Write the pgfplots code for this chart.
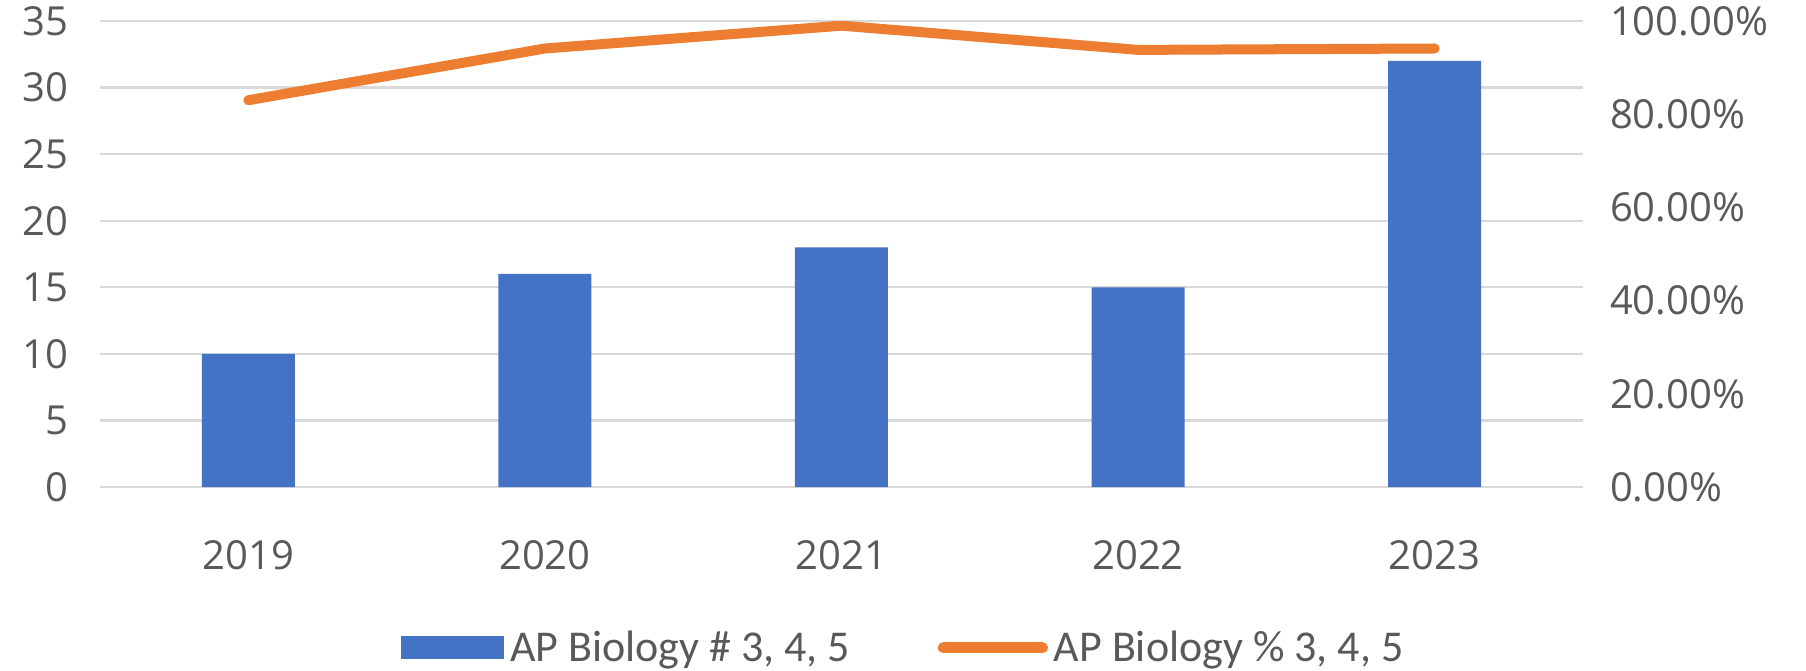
\documentclass[border=0pt]{standalone}
\usepackage{fontspec}
\setmainfont{Open Sans}
\newfontfamily\legfont{Carlito}
\usepackage{pgfplots}
\pgfplotsset{compat=1.18}

\definecolor{barblue}{HTML}{4472C4}
\definecolor{lineorange}{HTML}{ED7D31}
\definecolor{txtgray}{HTML}{595959}
\definecolor{gridgray}{HTML}{D9D9D9}

\begin{document}
\begin{tikzpicture}
\useasboundingbox (-50pt,-91.5pt) rectangle (853pt,243.5pt);
\pgfplotsset{
  base/.style={
    scale only axis, width=741.5pt, height=233pt,
    xmin=-0.5, xmax=4.5,
    tick style={draw=none},
    /pgf/number format/assume math mode=true,
    ticklabel style={font=\fontsize{20}{24}\selectfont, text=txtgray},
  }
}
\begin{axis}[base,
    ymin=0, ymax=35, ytick={0,5,...,35},
    ymajorgrids, grid style={gridgray, line width=1.2pt},
    axis line style={draw=none},
    axis x line*=bottom, axis y line*=left,
    xtick={0,1,2,3,4},
    xticklabels={2019,2020,2021,2022,2023},
    xticklabel style={yshift=-19pt},
    yticklabel style={xshift=-12.5pt},
    ybar, bar width=46.5pt,
]
\draw[gridgray, line width=1.2pt] (axis cs:-0.5,0) -- (axis cs:4.5,0);
\addplot[fill=barblue, draw=none] coordinates {(0,10) (1,16) (2,18) (3,15) (4,32)};
\end{axis}
\begin{axis}[base,
    ymin=0, ymax=100, ytick={0,20,...,100},
    axis x line=none, axis y line*=right,
    axis line style={draw=none},
    yticklabel={\pgfmathprintnumber[fixed,fixed zerofill,precision=2]{\tick}\%},
    yticklabel style={xshift=10pt},
    legend columns=-1,
    legend style={draw=none, fill=none, at={(0.543,-0.345)}, anchor=center,
      font=\legfont\fontsize{22}{26}\selectfont, text=txtgray,
      inner sep=0pt,
      /tikz/every even column/.append style={column sep=41pt},
      nodes={inner xsep=3pt, inner ysep=1pt}},
]
\addlegendimage{legend image code/.code={\fill[barblue] (0pt,-5.5pt) rectangle (51pt,5.5pt);}}
\addlegendentry{AP Biology \# 3, 4, 5}
\addplot[lineorange, line width=5pt, line cap=round, line join=round,
  legend image code/.code={\draw[lineorange, line width=5.5pt, line cap=round] (2.5pt,0pt) -- (52pt,0pt);}]
  coordinates {(0,83) (1,94.1) (2,99.0) (3,93.8) (4,94.1)};
\addlegendentry{AP Biology \% 3, 4, 5}
\end{axis}
\end{tikzpicture}
\end{document}
